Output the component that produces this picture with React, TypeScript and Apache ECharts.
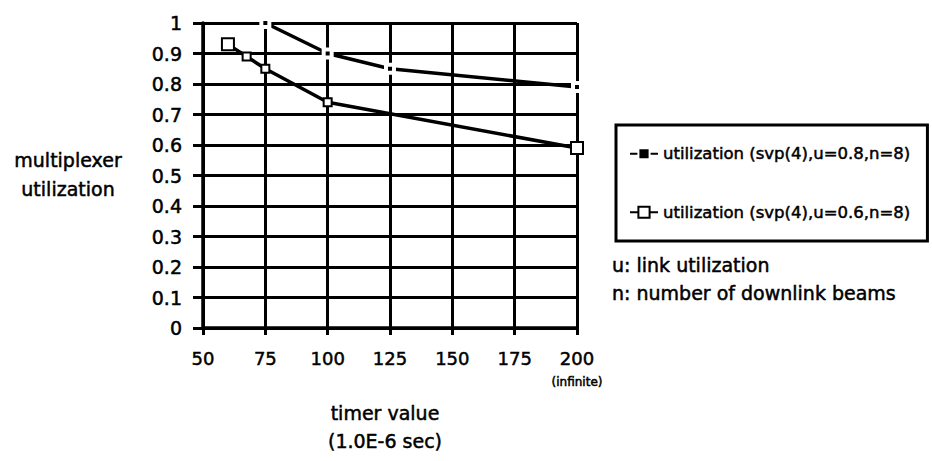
import React, { useEffect, useRef } from 'react';
import * as echarts from 'echarts';

const seriesNames = ['utilization (svp(4),u=0.8,n=8)', 'utilization (svp(4),u=0.6,n=8)'];
const timerA = [75, 100, 125, 200];
const utilA = [1.0, 0.9, 0.85, 0.79];
const timerB = [60, 67.5, 75, 100, 200];
const utilB = [0.93, 0.89, 0.85, 0.74, 0.59];
const xMin = 50;
const xMax = 200;
const xStep = 25;
const yMin = 0;
const yMax = 1;
const yStep = 0.1;
const yAxisTitle = ['multiplexer', 'utilization'];
const xAxisTitle = ['timer value', '(1.0E-6 sec)'];
const infiniteNote = '(infinite)';
const notes = ['u: link utilization', 'n: number of downlink beams'];

const FONT = '"DejaVu Sans", Verdana, sans-serif';
const HEAVY = { textBorderColor: '#000', textBorderWidth: 0.5 };

export default function App() {
  const ref = useRef<HTMLDivElement>(null);
  useEffect(() => {
    const chart = echarts.init(ref.current!, null, { renderer: 'svg' });
    const lastB = timerB.length - 1;
    chart.setOption({
      animation: false,
      backgroundColor: '#fff',
      grid: { left: 203, right: 355, top: 23, bottom: 133 },
      xAxis: {
        type: 'value',
        min: xMin,
        max: xMax,
        interval: xStep,
        axisLine: { show: true, lineStyle: { color: '#000', width: 3.5 } },
        axisTick: { show: true, length: 7, lineStyle: { color: '#000', width: 3 } },
        splitLine: { show: true, lineStyle: { color: '#000', width: 3 } },
        axisLabel: {
          margin: 19,
          color: '#000',
          fontFamily: FONT,
          fontSize: 18,
          lineHeight: 22,
          ...HEAVY,
          formatter: (v: number) => (v === xMax ? `${v}\n{b|${infiniteNote}}` : `${v}`),
          rich: {
            b: { fontFamily: FONT, fontSize: 12, color: '#000', lineHeight: 26, ...HEAVY },
          },
        },
      },
      yAxis: {
        type: 'value',
        min: yMin,
        max: yMax,
        interval: yStep,
        axisLine: { show: true, lineStyle: { color: '#000', width: 3.5 } },
        axisTick: { show: true, length: 10, lineStyle: { color: '#000', width: 3 } },
        splitLine: { show: true, lineStyle: { color: '#000', width: 3 } },
        axisLabel: {
          margin: 21,
          color: '#000',
          fontFamily: FONT,
          fontSize: 19,
          ...HEAVY,
          formatter: (v: number) => String(Math.round(v * 10) / 10),
        },
      },
      legend: {
        orient: 'vertical',
        left: 616,
        top: 125,
        padding: [20, 17, 20, 13],
        itemGap: 41,
        itemWidth: 28,
        itemHeight: 14,
        borderColor: '#000',
        borderWidth: 3,
        textStyle: { fontFamily: FONT, fontSize: 16.5, color: '#000', ...HEAVY },
        data: seriesNames,
      },
      graphic: [
        {
          type: 'text',
          x: 68,
          y: 174,
          style: {
            text: yAxisTitle.join('\n'),
            fontFamily: FONT,
            fontSize: 19,
            lineHeight: 29,
            fill: '#000',
            stroke: '#000',
            lineWidth: 0.5,
            align: 'center',
            verticalAlign: 'middle',
          },
        },
        {
          type: 'text',
          x: 385,
          y: 427,
          style: {
            text: xAxisTitle.join('\n'),
            fontFamily: FONT,
            fontSize: 19,
            lineHeight: 28,
            fill: '#000',
            stroke: '#000',
            lineWidth: 0.5,
            align: 'center',
            verticalAlign: 'middle',
          },
        },
        ...notes.map((t, i) => ({
          type: 'text',
          x: 612,
          y: 265 + i * 28,
          style: {
            text: t,
            fontFamily: FONT,
            fontSize: 19,
            fill: '#000',
            stroke: '#000',
            lineWidth: 0.5,
            align: 'left',
            verticalAlign: 'middle',
          },
        })),
      ],
      series: [
        {
          name: seriesNames[0],
          type: 'line',
          data: timerA.map((x, i) => [x, utilA[i]]),
          symbol: 'rect',
          symbolSize: 8,
          showSymbol: true,
          itemStyle: { color: '#000', borderColor: '#fff', borderWidth: 4 },
          lineStyle: { color: '#000', width: 3.5 },
          z: 5,
        },
        {
          name: seriesNames[1],
          type: 'line',
          data: timerB.map((x, i) => [x, utilB[i]]),
          symbol: 'emptyRect',
          symbolSize: (_v: any, p: any) => (p.dataIndex === 0 || p.dataIndex === lastB ? 12 : 8),
          showSymbol: true,
          itemStyle: { color: '#000', borderColor: '#000', borderWidth: 2.5 },
          lineStyle: { color: '#000', width: 3.5 },
          z: 6,
        },
      ],
    });
    return () => chart.dispose();
  }, []);
  return (
    <div
      ref={ref}
      style={{ position: 'fixed', left: 0, top: 0, width: 932, height: 461, background: '#fff' }}
    />
  );
}
